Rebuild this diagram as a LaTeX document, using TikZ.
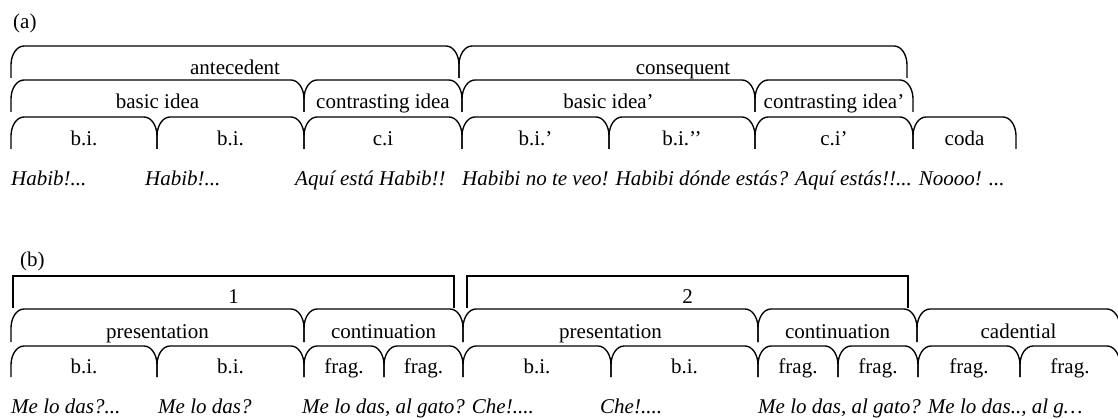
\documentclass[tikz,border=0pt]{standalone}
\usepackage{fontspec}
\setmainfont{Liberation Serif}
\tikzset{
  br/.style={line width=1.35pt, line join=round},
  lbl/.style={anchor=base, inner sep=0pt, font=\fontsize{21}{24}\selectfont},
  lyr/.style={anchor=base west, inner sep=0pt, font=\fontsize{21}{24}\selectfont\itshape},
}
% curly bracket: name, x0, x1, top, bottom, label
\newcommand\curlybr[6]{%
  \draw[br] (#2,#5) -- (#2,#4+19) .. controls (#2,#4+8.5) and (#2+5.8,#4) .. (#2+13,#4)
    -- (#3-13,#4) .. controls (#3-5.8,#4) and (#3,#4+8.5) .. (#3,#4+19) -- (#3,#5);
  \node[lbl] (#1) at ({(#2+#3)/2},#5-3.5) {#6};
}
% square bracket: name, x0, x1, top, bottom, label
\newcommand\squarebr[6]{%
  \draw[br, line join=miter] (#2,#5) -- (#2,#4) -- (#3,#4) -- (#3,#5);
  \node[lbl] (#1) at ({(#2+#3)/2},#5-4) {#6};
}
\begin{document}
\begin{tikzpicture}[x=1pt,y=-1pt]
\useasboundingbox (0,0) rectangle (1118,419);
\clip (0,0) rectangle (1118,419);
% ---------- (a)
\node[lbl, anchor=base west] (la) at (13,29) {(a)};
\curlybr{a1}{11}{459}{46}{78}{antecedent}
\curlybr{a2}{459}{907}{46}{78}{consequent}
\curlybr{a3}{11}{304}{80}{112}{basic idea}
\curlybr{a4}{304}{462}{80}{112}{contrasting idea}
\curlybr{a5}{462}{755}{80}{112}{basic idea’}
\curlybr{a6}{755}{913}{80}{112}{contrasting idea’}
\curlybr{a7}{11}{157}{117}{149}{b.i.}
\curlybr{a8}{157}{304}{117}{149}{b.i.}
\curlybr{a9}{304}{462}{117}{149}{c.i}
\curlybr{a10}{462}{609}{117}{149}{b.i.’}
\curlybr{a11}{609}{755}{117}{149}{b.i.’’}
\curlybr{a12}{755}{913}{117}{149}{c.i’}
\curlybr{a13}{913}{1016}{117}{149}{coda}
\node[lyr] (ta1) at (11,186) {Habib!...};
\node[lyr] (ta2) at (145,186) {Habib!...};
\node[lyr] (ta3) at (295,186) {Aquí está Habib!!};
\node[lyr] (ta4) at (462,186) {Habibi no te veo! Habibi dónde estás? Aquí estás!!... Noooo! ...};
% ---------- (b)
\node[lbl, anchor=base west] (lb) at (20,267) {(b)};
\squarebr{b1}{13}{454}{276}{308}{1}
\squarebr{b2}{467}{908}{276}{308}{2}
\curlybr{b3}{11}{304}{309}{342}{presentation}
\curlybr{b4}{304}{463}{309}{342}{continuation}
\curlybr{b5}{463}{758}{309}{342}{presentation}
\curlybr{b6}{758}{917}{309}{342}{continuation}
\curlybr{b7}{917}{1120}{309}{342}{cadential}
\curlybr{b8}{11}{157}{346}{377}{b.i.}
\curlybr{b9}{157}{304}{346}{377}{b.i.}
\curlybr{b10}{304}{384}{346}{377}{frag.}
\curlybr{b11}{384}{463}{346}{377}{frag.}
\curlybr{b12}{463}{611}{346}{377}{b.i.}
\curlybr{b13}{611}{758}{346}{377}{b.i.}
\curlybr{b14}{758}{838}{346}{377}{frag.}
\curlybr{b15}{838}{918}{346}{377}{frag.}
\curlybr{b16}{918}{1020}{346}{377}{frag.}
\curlybr{b17}{1020}{1120}{346}{377}{frag.}
\node[lyr] (tb1) at (11,413) {Me lo das?...};
\node[lyr] (tb2) at (158,413) {Me lo das?};
\node[lyr] (tb3) at (302,413) {Me lo das, al gato? Che!....};
\node[lyr] (tb4) at (600,413) {Che!....};
\node[lyr] (tb5) at (758,413) {Me lo das, al gato? Me lo das.., al g…};
\end{tikzpicture}
\end{document}
